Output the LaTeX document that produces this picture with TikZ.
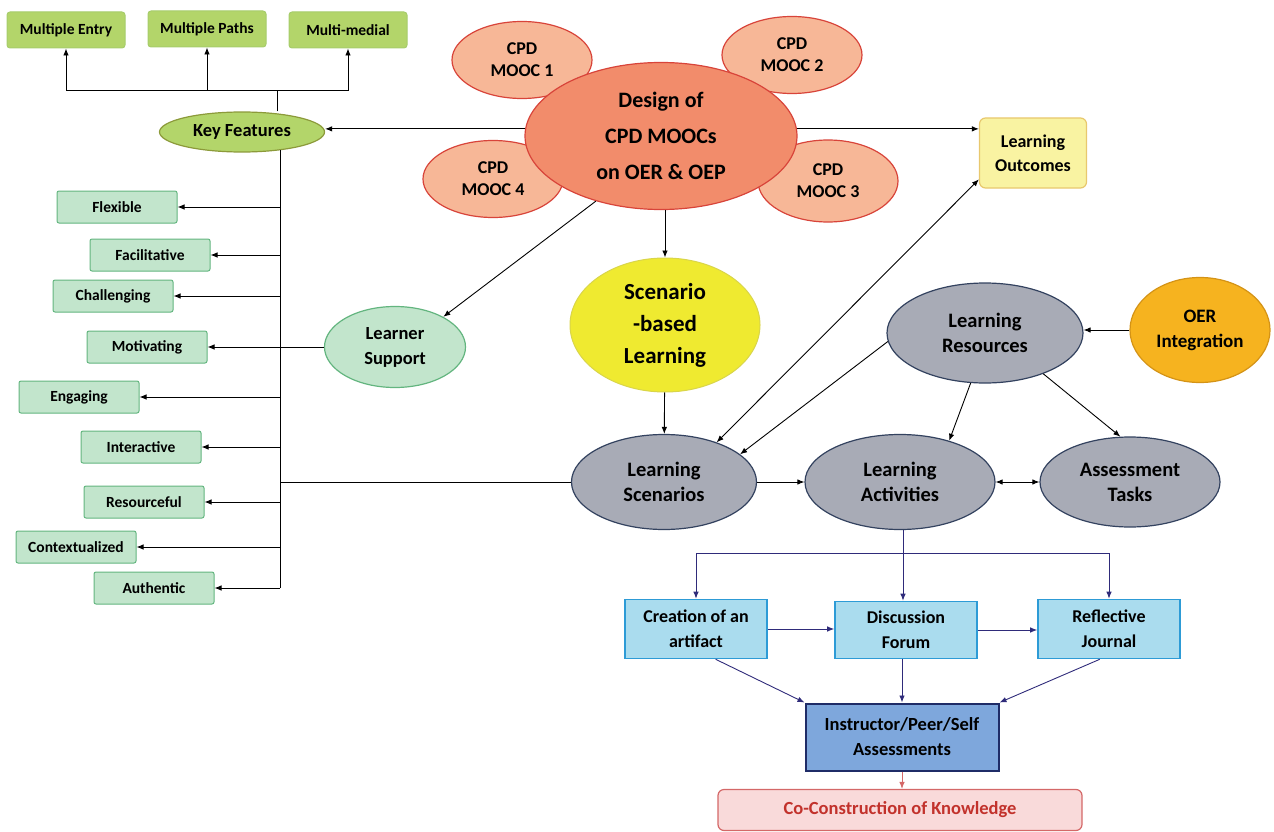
\documentclass[tikz,border=0pt]{standalone}
\usepackage{fontspec}
\setmainfont{Carlito}
\usepackage{tikz}
\usetikzlibrary{shapes.geometric,arrows.meta,positioning}
\usepackage{xcolor}
\definecolor{limefill}{HTML}{B3D56A}
\definecolor{limeedge}{HTML}{A6CC6B}
\definecolor{keyedge}{HTML}{8C9A3A}
\definecolor{mintfill}{HTML}{C2E5CC}
\definecolor{mintedge}{HTML}{63B57F}
\definecolor{moocfill}{HTML}{F7B797}
\definecolor{moocedge}{HTML}{D8443A}
\definecolor{designfill}{HTML}{F28C6B}
\definecolor{outfill}{HTML}{F9F3A2}
\definecolor{outedge}{HTML}{E8C86E}
\definecolor{scbfill}{HTML}{EFEA30}
\definecolor{scbedge}{HTML}{D9D54A}
\definecolor{grayfill}{HTML}{A8ABB6}
\definecolor{grayedge}{HTML}{33425F}
\definecolor{oerfill}{HTML}{F6B31F}
\definecolor{oeredge}{HTML}{D49316}
\definecolor{bluefill}{HTML}{AADCEE}
\definecolor{blueedge}{HTML}{2D9BD6}
\definecolor{instrfill}{HTML}{7EA7DC}
\definecolor{instredge}{HTML}{1F2C67}
\definecolor{cocofill}{HTML}{F9DADA}
\definecolor{cocoedge}{HTML}{D46868}
\definecolor{cocotext}{HTML}{C2322C}
\definecolor{navy}{HTML}{2F2B7A}

\begin{document}
\begin{tikzpicture}[
    x=1pt, y=-1pt,
    topbox/.style={draw=limeedge, fill=limefill, line width=1pt, rounded corners=3pt, minimum width=118pt, minimum height=36pt, inner sep=0pt, font=\fontsize{15.5}{18}\selectfont\bfseries},
    featbox/.style={draw=mintedge, fill=mintfill, line width=1pt, rounded corners=2pt, minimum width=120pt, minimum height=32pt, inner sep=0pt, font=\fontsize{15.5}{18}\selectfont\bfseries},
    mooc/.style={ellipse, draw=moocedge, fill=moocfill, line width=1.2pt, minimum width=140pt, minimum height=77pt, inner sep=0pt, align=center, font=\fontsize{18}{22}\selectfont\bfseries},
    grayell/.style={ellipse, draw=grayedge, fill=grayfill, line width=1.2pt, inner sep=0pt, align=center, font=\fontsize{20.5}{25}\selectfont\bfseries},
    bluebox/.style={draw=blueedge, fill=bluefill, line width=1.6pt, minimum width=142pt, minimum height=59pt, inner sep=0pt, align=center, font=\fontsize{18}{25}\selectfont\bfseries},
    arrow/.style={-{Latex[length=7pt,width=5.5pt]}, line width=0.9pt},
    biarrow/.style={{Latex[length=7pt,width=5.5pt]}-{Latex[length=7pt,width=5.5pt]}, line width=0.9pt},
    navyarrow/.style={arrow, draw=navy}
]
\useasboundingbox (0,0) rectangle (1274,832);

% Top features
\node[topbox] (entry) at (66,30) {Multiple Entry};
\node[topbox] (paths) at (207,29) {Multiple Paths};
\node[topbox] (medial) at (348,30) {Multi-medial};

\node[ellipse, draw=keyedge, fill=limefill, line width=1.2pt, minimum width=165pt, minimum height=40pt, inner sep=0pt, font=\fontsize{18.5}{20}\selectfont\bfseries] (kf) at (242,132) {Key Features};

\coordinate (hub) at (277,90);
\draw[line width=0.9pt] (kf.north -| hub) -- (hub);
\draw[arrow] (hub) -| (entry);
\draw[arrow] (hub) -| (paths);
\draw[arrow] (hub) -| (medial);

% Left features
\node[featbox] (flex) at (117,207) {Flexible};
\node[featbox] (facil) at (150,255) {Facilitative};
\node[featbox] (chall) at (113,296) {Challenging};
\node[featbox] (motiv) at (147,347) {Motivating};
\node[featbox] (engag) at (79,397) {Engaging};
\node[featbox] (inter) at (141,447) {Interactive};
\node[featbox] (resour) at (144,502) {Resourceful};
\node[featbox] (context) at (76,547) {Contextualized};
\node[featbox] (authen) at (154,588) {Authentic};

\coordinate (trunk) at (280,150);
\draw[line width=0.9pt] (trunk) -- (trunk |- authen);
\draw[arrow] (trunk |- flex) -- (flex);
\draw[arrow] (trunk |- facil) -- (facil);
\draw[arrow] (trunk |- chall) -- (chall);
\draw[arrow] (trunk |- engag) -- (engag);
\draw[arrow] (trunk |- inter) -- (inter);
\draw[arrow] (trunk |- resour) -- (resour);
\draw[arrow] (trunk |- context) -- (context);
\draw[arrow] (trunk |- authen) -- (authen);

% Learner support
\node[ellipse, draw=mintedge, fill=mintfill, line width=1.2pt, minimum width=141pt, minimum height=81pt, inner sep=0pt, align=center, font=\fontsize{18.5}{25}\selectfont\bfseries] (support) at (395,347) {Learner\\Support};
\draw[arrow] (support) -- (motiv);

% MOOCs and design
\node[mooc] (mooc1) at (522,60) {CPD\\MOOC 1};
\node[mooc] (mooc2) at (792,55) {CPD\\MOOC 2};
\node[mooc] (mooc4) at (493,179) {CPD\\MOOC 4};
\node[mooc, minimum height=82pt] (mooc3) at (828,181) {CPD\\MOOC 3};
\node[ellipse, draw=moocedge, fill=designfill, line width=1.2pt, minimum width=272pt, minimum height=147pt, inner sep=0pt, align=center, font=\fontsize{22}{36}\selectfont\bfseries] (design) at (661,136) {Design of\\CPD MOOCs\\on OER \& OEP};

\draw[arrow] (design.177) -- (design.177 -| kf.east);
\draw[arrow] (design.225) -- (support.32);

% Outcomes
\node[draw=outedge, fill=outfill, line width=1.2pt, rounded corners=6pt, minimum width=107pt, minimum height=70pt, inner sep=0pt, align=center, font=\fontsize{18}{24}\selectfont\bfseries] (outcomes) at (1033,153) {Learning\\Outcomes};
\draw[arrow] (design.3) -- (design.3 -| outcomes.west);

% Scenario-based learning
\node[ellipse, draw=scbedge, fill=scbfill, line width=1pt, minimum width=190pt, minimum height=134pt, inner sep=0pt, align=center, font=\fontsize{23}{32}\selectfont\bfseries] (scb) at (665,325) {Scenario\\-based\\Learning};
\draw[arrow] (design.south -| scb.north) -- (scb.north);

% Learning design core
\node[grayell, minimum width=185pt, minimum height=95pt] (scen) at (664,482) {Learning\\Scenarios};
\node[grayell, minimum width=190pt, minimum height=95pt] (act) at (900,482) {Learning\\Activities};
\node[grayell, minimum width=180pt, minimum height=90pt] (ass) at (1130,482) {Assessment\\Tasks};
\node[grayell, minimum width=196pt, minimum height=100pt] (res) at (985,333) {Learning\\Resources};
\node[ellipse, draw=oeredge, fill=oerfill, line width=1.2pt, minimum width=140pt, minimum height=105pt, inner sep=0pt, align=center, font=\fontsize{19}{25}\selectfont\bfseries] (oer) at (1200,330) {OER\\Integration};

\draw[line width=0.9pt] (trunk |- scen) -- (scen);
\draw[arrow] (scb) -- (scen);
\draw[biarrow] (scen.37) -- (outcomes.206);
\draw[arrow] (res.185) -- (scen.20);
\draw[arrow] (res.254) -- (act.40);
\draw[arrow] (res.-35) -- (ass.102);
\draw[arrow] (oer.west) -- (oer.west -| res.east);
\draw[arrow] (scen) -- (act);
\draw[biarrow] (act) -- (ass);

% Tasks
\node[bluebox] (creation) at (696,629) {Creation of an\\artifact};
\node[bluebox, minimum height=57pt] (disc) at (906,630) {Discussion\\Forum};
\node[bluebox] (reflect) at (1109,629) {Reflective\\Journal};

\coordinate (split) at (903,553);
\draw[navyarrow] (act.south -| split) -- (disc.north -| split);
\draw[navyarrow] (split) -| (creation.north);
\draw[navyarrow] (split) -| (reflect.north);
\draw[navyarrow] (creation.east) -- (creation.east -| disc.west);
\draw[navyarrow] (disc.east) -- (disc.east -| reflect.west);

% Assessment and outcome
\node[draw=instredge, fill=instrfill, line width=2pt, minimum width=193pt, minimum height=67pt, inner sep=0pt, align=center, font=\fontsize{18.5}{25}\selectfont\bfseries] (instr) at (902,737) {Instructor/Peer/Self\\Assessments};
\node[draw=cocoedge, fill=cocofill, line width=1.2pt, rounded corners=6pt, minimum width=364pt, minimum height=41pt, inner sep=0pt, text=cocotext, font=\fontsize{18.5}{20}\selectfont\bfseries] (cocon) at (900,810) {Co-Construction of Knowledge};

\draw[navyarrow] (creation.-57) -- (instr.north west);
\draw[navyarrow] (instr.north |- disc.south) -- (instr.north);
\draw[navyarrow] (reflect.-107) -- (instr.north east);
\draw[arrow, draw=cocoedge] (instr.south) -- (instr.south |- cocon.north);

\end{tikzpicture}
\end{document}
